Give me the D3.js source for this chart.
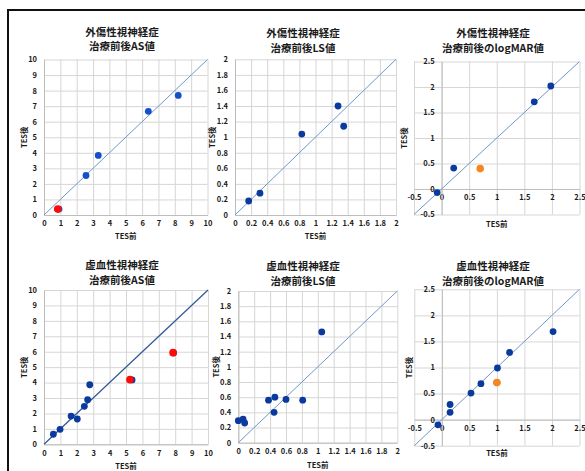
<!DOCTYPE html>
<html>
<head>
<meta charset="utf-8">
<script src="https://cdn.jsdelivr.net/npm/d3@7"></script>
<style>
  body { margin: 0; background: #fff; }
  svg { display: block; }
  text { font-family: "Noto Sans CJK JP", "Noto Sans", sans-serif; font-weight: bold; fill: #1a1a1a; }
  .tick text { font-size: 7.5px; }
</style>
</head>
<body>
<div id="chart"></div>
<script>
// tick labels
const asTicks = [0, 1, 2, 3, 4, 5, 6, 7, 8, 9, 10];
const lsTicks = [0, 0.2, 0.4, 0.6, 0.8, 1, 1.2, 1.4, 1.6, 1.8, 2];
const logmarTicks = [-0.5, 0, 0.5, 1, 1.5, 2, 2.5];

// 外傷性視神経症 AS値
const asTraumaX = [0.92, 2.57, 3.32, 6.38, 8.21];
const asTraumaY = [0.38, 2.54, 3.83, 6.67, 7.69];
const asTraumaRedX = [0.84];
const asTraumaRedY = [0.38];

// 外傷性視神経症 LS値
const lsTraumaX = [0.17, 0.31, 0.83, 1.28, 1.35];
const lsTraumaY = [0.18, 0.28, 1.04, 1.40, 1.14];

// 外傷性視神経症 logMAR値
const logmarTraumaX = [-0.08, 0.22, 1.68, 1.98];
const logmarTraumaY = [-0.07, 0.41, 1.71, 2.02];
const logmarTraumaOrangeX = [0.70];
const logmarTraumaOrangeY = [0.40];

// 虚血性視神経症 AS値
const asIschX = [0.57, 0.98, 1.65, 2.03, 2.46, 2.66, 2.79, 5.37, 7.90];
const asIschY = [0.65, 0.97, 1.83, 1.64, 2.46, 2.89, 3.86, 4.17, 5.92];
const asIschRedX = [5.24, 7.87];
const asIschRedY = [4.19, 5.94];

// 虚血性視神経症 LS値
const lsIschX = [0.00, 0.06, 0.08, 0.38, 0.46, 0.45, 0.60, 0.81, 1.05];
const lsIschY = [0.29, 0.31, 0.26, 0.56, 0.60, 0.40, 0.57, 0.56, 1.46];

// 虚血性視神経症 logMAR値
const logmarIschX = [-0.07, 0.15, 0.15, 0.53, 0.71, 1.01, 1.00, 1.23, 2.02];
const logmarIschY = [-0.10, 0.29, 0.14, 0.51, 0.69, 0.99, 0.71, 1.29, 1.69];
const logmarIschOrangeX = [1.00];
const logmarIschOrangeY = [0.71];

const zip = (xs, ys) => xs.map((v, i) => [v, ys[i]]);
const fmt = v => String(+v.toFixed(1));

const RED = '#ff0a0a', ORANGE = '#f7861e';

const panels = [
  { title: ['外傷性視神経症', '治療前後AS値'], tx: 122, ty: [31, 45.5],
    xr: [44, 207.5], yr: [215, 59.5], dom: [0, 10], ticks: asTicks, cross: 0,
    pts: zip(asTraumaX, asTraumaY), acc: zip(asTraumaRedX, asTraumaRedY), accColor: RED,
    dot: '#1450cc', line: '#6f98c8', lineW: 1, xTitleY: 235, yTitleX: 23 },
  { title: ['外傷性視神経症', '治療前後LS値'], tx: 303, ty: [32.5, 47.5],
    xr: [235, 396], yr: [215, 59.3], dom: [0, 2], ticks: lsTicks, cross: 0,
    pts: zip(lsTraumaX, lsTraumaY), acc: [], accColor: RED,
    dot: '#0a3a9e', line: '#6f98c8', lineW: 1, xTitleY: 235, yTitleX: 211 },
  { title: ['外傷性視神経症', '治療前後のlogMAR値'], tx: 493, ty: [32.5, 47.5],
    xr: [414, 579.5], yr: [214.5, 61.5], dom: [-0.5, 2.5], ticks: logmarTicks, cross: 0,
    pts: zip(logmarTraumaX, logmarTraumaY), acc: zip(logmarTraumaOrangeX, logmarTraumaOrangeY), accColor: ORANGE,
    dot: '#0a3a9e', line: '#6f98c8', lineW: 1, xTitleY: 223, yTitleX: 403 },
  { title: ['虚血性視神経症', '治療前後AS値'], tx: 122, ty: [264, 279],
    xr: [44, 208], yr: [444.3, 290], dom: [0, 10], ticks: asTicks, cross: 0,
    pts: zip(asIschX, asIschY), acc: zip(asIschRedX, asIschRedY), accColor: RED,
    dot: '#0a3a9e', line: '#2f5597', lineW: 1.2, xTitleY: 465, yTitleX: 23 },
  { title: ['虚血性視神経症', '治療前後LS値'], tx: 303, ty: [265.5, 280.5],
    xr: [238.3, 397.3], yr: [442.7, 291], dom: [0, 2], ticks: lsTicks, cross: 0,
    pts: zip(lsIschX, lsIschY), acc: [], accColor: RED,
    dot: '#0a3a9e', line: '#6f98c8', lineW: 1, xTitleY: 464, yTitleX: 215 },
  { title: ['虚血性視神経症', '治療前後のlogMAR値'], tx: 493, ty: [265, 280],
    xr: [414.3, 579.5], yr: [445.7, 289.3], dom: [-0.5, 2.5], ticks: logmarTicks, cross: 0,
    pts: zip(logmarIschX, logmarIschY), acc: zip(logmarIschOrangeX, logmarIschOrangeY), accColor: ORANGE,
    dot: '#0a3a9e', line: '#6f98c8', lineW: 1, xTitleY: 452, yTitleX: 408 }
];

const svg = d3.select('#chart').append('svg')
  .attr('width', 585)
  .attr('height', 471);

// outer frame
svg.append('path')
  .attr('d', 'M8,471V10H585')
  .attr('fill', 'none')
  .attr('stroke', '#111')
  .attr('stroke-width', 2);

panels.forEach(p => {
  const x = d3.scaleLinear().domain(p.dom).range(p.xr);
  const y = d3.scaleLinear().domain(p.dom).range(p.yr);
  const g = svg.append('g');
  const w = p.xr[1] - p.xr[0];
  const h = p.yr[0] - p.yr[1];

  // gridlines
  const gx = g.append('g')
    .attr('transform', `translate(0,${p.yr[0]})`)
    .call(d3.axisBottom(x).tickValues(p.ticks).tickSize(-h).tickFormat(''));
  const gy = g.append('g')
    .attr('transform', `translate(${p.xr[0]},0)`)
    .call(d3.axisLeft(y).tickValues(p.ticks).tickSize(-w).tickFormat(''));
  [gx, gy].forEach(a => {
    a.select('.domain').remove();
    a.selectAll('line').attr('stroke', '#d6d6d6').attr('stroke-width', 1);
  });

  // axes through the crossing point
  const ax = g.append('g')
    .attr('transform', `translate(0,${y(p.cross)})`)
    .call(d3.axisBottom(x).tickValues(p.ticks).tickSize(0).tickPadding(6).tickFormat(fmt));
  const ay = g.append('g')
    .attr('transform', `translate(${x(p.cross)},0)`)
    .call(d3.axisLeft(y).tickValues(p.ticks).tickSize(0).tickPadding(7).tickFormat(fmt));
  [ax, ay].forEach(a => {
    a.select('.domain').attr('stroke', '#bdbdbd').attr('stroke-width', 1);
    a.selectAll('text').attr('fill', '#1a1a1a').attr('font-family', null).attr('font-size', null);
  });

  // identity line
  g.append('line')
    .attr('x1', x(p.dom[0])).attr('y1', y(p.dom[0]))
    .attr('x2', x(p.dom[1])).attr('y2', y(p.dom[1]))
    .attr('stroke', p.line)
    .attr('stroke-width', p.lineW);

  // points
  g.selectAll('.pt').data(p.pts).enter().append('circle')
    .attr('class', 'pt')
    .attr('cx', d => x(d[0]))
    .attr('cy', d => y(d[1]))
    .attr('r', 3.4)
    .attr('fill', p.dot);

  g.selectAll('.acc').data(p.acc).enter().append('circle')
    .attr('class', 'acc')
    .attr('cx', d => x(d[0]))
    .attr('cy', d => y(d[1]))
    .attr('r', 3.8)
    .attr('fill', p.accColor);

  // titles
  p.title.forEach((t, i) => {
    g.append('text')
      .attr('x', p.tx).attr('y', p.ty[i])
      .attr('text-anchor', 'middle')
      .attr('dominant-baseline', 'central')
      .attr('font-size', 10.5)
      .text(t);
  });

  g.append('text')
    .attr('x', (p.xr[0] + p.xr[1]) / 2).attr('y', p.xTitleY)
    .attr('text-anchor', 'middle')
    .attr('dominant-baseline', 'central')
    .attr('font-size', 7.5)
    .text('TES前');

  const cy = (p.yr[0] + p.yr[1]) / 2;
  g.append('text')
    .attr('transform', `translate(${p.yTitleX},${cy}) rotate(-90)`)
    .attr('text-anchor', 'middle')
    .attr('dominant-baseline', 'central')
    .attr('font-size', 7.5)
    .text('TES後');
});
</script>
</body>
</html>
